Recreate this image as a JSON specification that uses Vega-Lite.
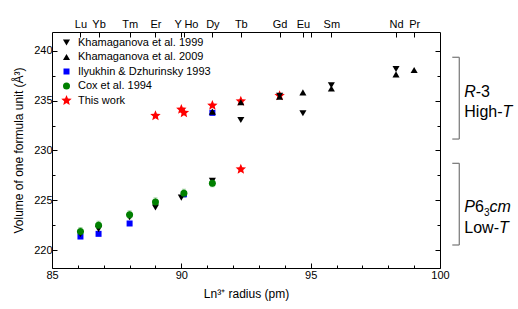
{
  "$schema": "https://vega.github.io/schema/vega-lite/v6.json",
  "width": 388,
  "height": 236,
  "autosize": {"type": "none"},
  "padding": {"left": 52, "top": 32, "right": 78, "bottom": 41},
  "config": {
    "view": {"stroke": "#000", "strokeWidth": 1},
    "font": "Liberation Sans",
    "axis": {
      "grid": false, "domain": false,
      "labelFont": "Liberation Sans", "titleFont": "Liberation Sans",
      "labelColor": "#000", "tickColor": "#000", "titleColor": "#000",
      "titleFontWeight": "normal", "labelFontSize": 11, "titleFontSize": 12
    }
  },
  "resolve": {"axis": {"x": "independent", "y": "independent"}},
  "layer": [
    {
      "data": {"values": [
        {"r": 86.1, "v": 221.86, "e": 0.4},
        {"r": 86.8, "v": 222.5, "e": 0.4},
        {"r": 88.0, "v": 223.54, "e": 0.4},
        {"r": 89.0, "v": 224.84, "e": 0.4},
        {"r": 90.1, "v": 225.71, "e": 0.4},
        {"r": 91.2, "v": 226.71, "e": 0.35}
      ]},
      "mark": {"type": "errorbar", "ticks": {"size": 4, "color": "#7cc07c"}, "rule": {"color": "#7cc07c", "strokeWidth": 1}},
      "encoding": {
        "x": {"field": "r", "type": "quantitative", "scale": {"domain": [85, 100], "nice": false, "zero": false}, "axis": null},
        "y": {"field": "v", "type": "quantitative", "scale": {"domain": [218.2, 241.9], "nice": false, "zero": false}, "axis": null},
        "yError": {"field": "e"}
      }
    },
    {
      "data": {"values": [
        {"series": "This work", "r": 89.0, "v": 233.49},
        {"series": "This work", "r": 90.0, "v": 234.13},
        {"series": "This work", "r": 90.1, "v": 233.79},
        {"series": "This work", "r": 91.2, "v": 234.53},
        {"series": "This work", "r": 92.3, "v": 234.94},
        {"series": "This work", "r": 92.3, "v": 228.12},
        {"series": "This work", "r": 93.8, "v": 235.5},
        {"series": "Ilyukhin & Dzhurinsky 1993", "r": 86.1, "v": 221.36},
        {"series": "Ilyukhin & Dzhurinsky 1993", "r": 86.8, "v": 221.63},
        {"series": "Ilyukhin & Dzhurinsky 1993", "r": 88.0, "v": 222.67},
        {"series": "Ilyukhin & Dzhurinsky 1993", "r": 90.1, "v": 225.6},
        {"series": "Ilyukhin & Dzhurinsky 1993", "r": 91.2, "v": 233.78},
        {"series": "Khamaganova et al. 2009", "r": 91.2, "v": 233.9},
        {"series": "Khamaganova et al. 2009", "r": 92.3, "v": 234.84},
        {"series": "Khamaganova et al. 2009", "r": 93.8, "v": 235.4},
        {"series": "Khamaganova et al. 2009", "r": 94.7, "v": 235.84},
        {"series": "Khamaganova et al. 2009", "r": 95.8, "v": 236.23},
        {"series": "Khamaganova et al. 2009", "r": 98.3, "v": 237.65},
        {"series": "Khamaganova et al. 2009", "r": 99.0, "v": 238.08},
        {"series": "Khamaganova et al. 1999", "r": 86.1, "v": 221.6},
        {"series": "Khamaganova et al. 1999", "r": 86.8, "v": 222.1},
        {"series": "Khamaganova et al. 1999", "r": 88.0, "v": 223.3},
        {"series": "Khamaganova et al. 1999", "r": 89.0, "v": 224.27},
        {"series": "Khamaganova et al. 1999", "r": 90.0, "v": 225.27},
        {"series": "Khamaganova et al. 1999", "r": 91.2, "v": 226.95},
        {"series": "Khamaganova et al. 1999", "r": 92.3, "v": 233.06},
        {"series": "Khamaganova et al. 1999", "r": 93.8, "v": 235.48},
        {"series": "Khamaganova et al. 1999", "r": 94.7, "v": 233.74},
        {"series": "Khamaganova et al. 1999", "r": 95.8, "v": 236.55},
        {"series": "Khamaganova et al. 1999", "r": 98.3, "v": 238.18},
        {"series": "Cox et al. 1994", "r": 86.1, "v": 221.86},
        {"series": "Cox et al. 1994", "r": 86.8, "v": 222.5},
        {"series": "Cox et al. 1994", "r": 88.0, "v": 223.54},
        {"series": "Cox et al. 1994", "r": 89.0, "v": 224.84},
        {"series": "Cox et al. 1994", "r": 90.1, "v": 225.71},
        {"series": "Cox et al. 1994", "r": 91.2, "v": 226.71}
      ]},
      "mark": {"type": "point", "filled": true, "opacity": 1, "strokeWidth": 0},
      "encoding": {
        "x": {
          "field": "r", "type": "quantitative",
          "scale": {"domain": [85, 100], "nice": false, "zero": false},
          "axis": {
            "orient": "bottom",
            "values": [85, 86, 87, 88, 89, 90, 91, 92, 93, 94, 95, 96, 97, 98, 99, 100],
            "labelExpr": "datum.value % 5 === 0 ? datum.label : ''",
            "tickSize": {"condition": {"test": "datum.value % 5 === 0", "value": -5}, "value": -3},
            "labelPadding": 6,
            "labelFlush": false,
            "labelOverlap": false,
            "title": "Ln³⁺ radius (pm)",
            "titlePadding": 6
          }
        },
        "y": {
          "field": "v", "type": "quantitative",
          "scale": {"domain": [218.2, 241.9], "nice": false, "zero": false},
          "axis": {
            "orient": "left",
            "values": [220, 222.5, 225, 227.5, 230, 232.5, 235, 237.5, 240],
            "labelExpr": "datum.value % 5 === 0 ? datum.label : ''",
            "tickSize": {"condition": {"test": "datum.value % 5 === 0", "value": -5}, "value": -3},
            "labelPadding": 5,
            "labelOverlap": false,
            "title": "Volume of one formula unit (Å³)",
            "titlePadding": 8
          }
        },
        "color": {
          "field": "series", "type": "nominal",
          "scale": {
            "domain": ["Khamaganova et al. 1999", "Khamaganova et al. 2009", "Ilyukhin & Dzhurinsky 1993", "Cox et al. 1994", "This work"],
            "range": ["#000000", "#000000", "#0000ff", "#008000", "#ff0000"]
          },
          "legend": {"orient": "none", "legendX": 9, "legendY": 5, "title": null, "padding": 0, "labelFontSize": 11, "labelFont": "Liberation Sans", "labelColor": "#000", "labelOffset": 6, "rowPadding": 2.5, "symbolStrokeWidth": 0}
        },
        "shape": {
          "field": "series", "type": "nominal",
          "scale": {
            "domain": ["Khamaganova et al. 1999", "Khamaganova et al. 2009", "Ilyukhin & Dzhurinsky 1993", "Cox et al. 1994", "This work"],
            "range": ["triangle-down", "triangle-up", "square", "circle", "M0,-1L0.2645,-0.364L0.951,-0.309L0.428,0.139L0.5878,0.809L0,0.45L-0.5878,0.809L-0.428,0.139L-0.951,-0.309L-0.2645,-0.364Z"]
          },
          "legend": {"orient": "none", "legendX": 9, "legendY": 5, "title": null, "padding": 0, "labelFontSize": 11, "labelFont": "Liberation Sans", "labelColor": "#000", "labelOffset": 6, "rowPadding": 2.5, "symbolStrokeWidth": 0}
        },
        "size": {
          "field": "series", "type": "ordinal",
          "sort": ["Khamaganova et al. 1999", "Khamaganova et al. 2009", "Ilyukhin & Dzhurinsky 1993", "Cox et al. 1994", "This work"],
          "scale": {
            "type": "ordinal",
            "domain": ["Khamaganova et al. 1999", "Khamaganova et al. 2009", "Ilyukhin & Dzhurinsky 1993", "Cox et al. 1994", "This work"],
            "range": [50, 50, 36, 49, 120]
          },
          "legend": {"orient": "none", "legendX": 9, "legendY": 5, "title": null, "padding": 0, "labelFontSize": 11, "labelFont": "Liberation Sans", "labelColor": "#000", "labelOffset": 6, "rowPadding": 2.5, "symbolStrokeWidth": 0}
        }
      }
    },
    {
      "data": {"values": [{"r": 85, "v": 230}]},
      "mark": {"type": "point", "opacity": 0},
      "encoding": {
        "x": {
          "field": "r", "type": "quantitative",
          "scale": {"domain": [85, 100], "nice": false, "zero": false},
          "axis": {
            "orient": "top",
            "values": [86.1, 86.8, 88.0, 89.0, 90.0, 90.1, 91.2, 92.3, 93.8, 94.7, 95.0, 95.8, 98.3, 99.0],
            "labelExpr": "['Lu','Yb','Tm','Er','Y','Ho','Dy','Tb','Gd','Eu','','Sm','Nd','Pr'][indexof(['86.1','86.8','88.0','89.0','90.0','90.1','91.2','92.3','93.8','94.7','95.0','95.8','98.3','99.0'], format(datum.value, '.1f'))]",
            "tickSize": -5,
            "labelPadding": 8,
            "labelFlush": false,
            "labelOverlap": false,
            "labelBound": false,
            "labelAlign": {"condition": [{"test": "format(datum.value, '.1f') === '90.0'", "value": "right"}, {"test": "format(datum.value, '.1f') === '90.1'", "value": "left"}], "value": "center"},
            "title": null
          }
        },
        "y": {
          "field": "v", "type": "quantitative",
          "scale": {"domain": [218.2, 241.9], "nice": false, "zero": false},
          "axis": {
            "orient": "right",
            "values": [220, 222.5, 225, 227.5, 230, 232.5, 235, 237.5, 240],
            "labels": false,
            "tickSize": {"condition": {"test": "datum.value % 5 === 0", "value": -5}, "value": -3},
            "title": null
          }
        }
      }
    },
    {
      "data": {"values": [{"lo": 231.15, "hi": 239.36}, {"lo": 220.51, "hi": 228.71}]},
      "layer": [
        {
          "mark": {"type": "rule", "color": "#808080", "strokeWidth": 1.3},
          "encoding": {
            "x": {"datum": 100.746, "type": "quantitative", "axis": null},
            "y": {"field": "lo", "type": "quantitative", "axis": null},
            "y2": {"field": "hi"}
          }
        },
        {
          "mark": {"type": "rule", "color": "#808080", "strokeWidth": 1.3},
          "encoding": {
            "x": {"datum": 100.475, "type": "quantitative", "axis": null},
            "x2": {"datum": 100.746},
            "y": {"field": "hi", "type": "quantitative", "axis": null}
          }
        },
        {
          "mark": {"type": "rule", "color": "#808080", "strokeWidth": 1.3},
          "encoding": {
            "x": {"datum": 100.475, "type": "quantitative", "axis": null},
            "x2": {"datum": 100.746},
            "y": {"field": "lo", "type": "quantitative", "axis": null}
          }
        }
      ]
    },
    {
      "data": {"values": [
        {"t": "-3", "x": 101.38, "y": 235.4},
        {"t": "High-", "x": 100.94, "y": 233.33},
        {"t": "6", "x": 101.35, "y": 223.85},
        {"t": "Low-", "x": 100.94, "y": 221.68}
      ]},
      "mark": {"type": "text", "align": "left", "baseline": "alphabetic", "fontSize": 16, "font": "Liberation Sans", "color": "#000"},
      "encoding": {
        "x": {"field": "x", "type": "quantitative", "axis": null},
        "y": {"field": "y", "type": "quantitative", "axis": null},
        "text": {"field": "t"}
      }
    },
    {
      "data": {"values": [
        {"t": "R", "x": 100.94, "y": 235.4},
        {"t": "T", "x": 102.42, "y": 233.33},
        {"t": "P", "x": 100.94, "y": 223.85},
        {"t": "cm", "x": 101.91, "y": 223.85},
        {"t": "T", "x": 102.28, "y": 221.68}
      ]},
      "mark": {"type": "text", "align": "left", "baseline": "alphabetic", "fontSize": 16, "fontStyle": "italic", "font": "Liberation Sans", "color": "#000"},
      "encoding": {
        "x": {"field": "x", "type": "quantitative", "axis": null},
        "y": {"field": "y", "type": "quantitative", "axis": null},
        "text": {"field": "t"}
      }
    },
    {
      "data": {"values": [{"t": "3", "x": 101.70, "y": 223.45}]},
      "mark": {"type": "text", "align": "left", "baseline": "alphabetic", "fontSize": 10, "font": "Liberation Sans", "color": "#000"},
      "encoding": {
        "x": {"field": "x", "type": "quantitative", "axis": null},
        "y": {"field": "y", "type": "quantitative", "axis": null},
        "text": {"field": "t"}
      }
    }
  ]
}
